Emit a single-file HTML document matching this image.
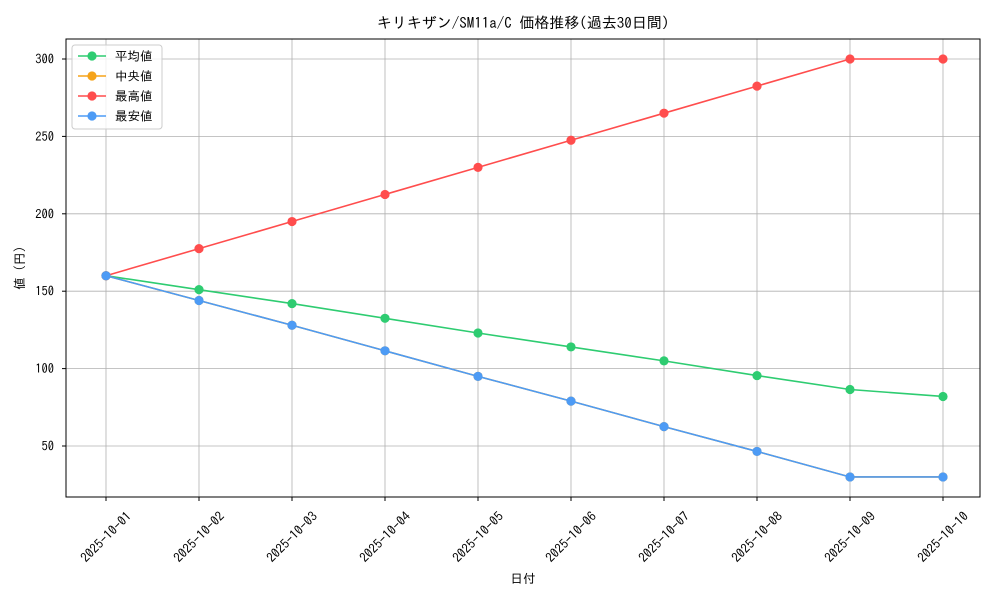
<!DOCTYPE html>
<html><head><meta charset="utf-8"><style>
body{margin:0;background:#fff;}
svg text{font-family:"IPAGothic","Noto Sans CJK JP",monospace;fill:#000;}
</style></head><body>
<svg id="chart" width="1000" height="600" xmlns="http://www.w3.org/2000/svg">
<rect width="1000" height="600" fill="#fff"/>
<g id="grid"></g>
<g id="series"></g>
<rect x="66" y="39" width="914" height="458" fill="none" stroke="#000" stroke-width="1"/>
<g id="axes"></g>
<text x="523" y="28" font-size="15" text-anchor="middle">キリキザン/SM11a/C 価格推移(過去30日間)</text>
<text x="523" y="583" font-size="12.5" text-anchor="middle">日付</text>
<text x="24" y="268" font-size="12.5" text-anchor="middle" transform="rotate(-90 24 268)">値 (円)</text>
<g id="legend"></g>
</svg>
<script>
const categories=["2025-10-01","2025-10-02","2025-10-03","2025-10-04","2025-10-05","2025-10-06","2025-10-07","2025-10-08","2025-10-09","2025-10-10"];
const avgValues=[160,151,142,132.5,123,114,105,95.5,86.5,82];
const medianValues=[160,144,128,111.5,95,79,62.5,46.5,30,30];
const maxValues=[160,177.5,195,212.5,230,247.5,265,282.5,300,300];
const minValues=[160,144,128,111.5,95,79,62.5,46.5,30,30];
const yTicks=[50,100,150,200,250,300];
const seriesNames=["平均値","中央値","最高値","最安値"];
const NS="http://www.w3.org/2000/svg";
function x(i){return 106+i*93;}
function y(v){return 523.4-v*1.548;}
function mk(tag,attrs,parent){const e=document.createElementNS(NS,tag);for(const k in attrs)e.setAttribute(k,attrs[k]);parent.appendChild(e);return e;}
const grid=document.getElementById('grid'),axes=document.getElementById('axes'),ser=document.getElementById('series'),leg=document.getElementById('legend');
categories.forEach((c,i)=>{
 const gl=mk('line',{x1:x(i),x2:x(i),y1:39,y2:497,stroke:'#b0b0b0','stroke-width':0.8},grid);
 
 
 const t=mk('line',{x1:x(i),x2:x(i),y1:497,y2:501,stroke:'#000'},axes);
 
 
 const tx=mk('text',{x:x(i),y:541.5,'font-size':13,'text-anchor':'middle',transform:`rotate(-45 ${x(i)} 537)`},axes);
 tx.textContent=c;
 
 
});
yTicks.forEach(v=>{
 const gl=mk('line',{x1:66,x2:980,y1:y(v),y2:y(v),stroke:'#b0b0b0','stroke-width':0.8},grid);
 
 
 const t=mk('line',{x1:62,x2:66,y1:y(v),y2:y(v),stroke:'#000'},axes);
 
 
 const tx=mk('text',{x:54,y:y(v)+4.5,'font-size':12.5,'text-anchor':'end'},axes);
 tx.textContent=v;
 
 
});
const all=[[avgValues,'#2ecc71'],[medianValues,'#f5a31a'],[maxValues,'#ff4d4d'],[minValues,'#4d9bf5']];
all.forEach(([vals,col],s)=>{
 const g=mk('g',{},ser);
 
 
 const p=mk('polyline',{points:vals.map((v,i)=>x(i)+','+y(v)).join(' '),fill:'none',stroke:col,'stroke-width':1.6},g);
 
 
 vals.forEach((v,i)=>{
  const c=mk('circle',{cx:x(i),cy:y(v),r:4.6,fill:col},g);
  
  
 });
});
mk('rect',{x:72,y:45,width:90,height:84,fill:'#fff','fill-opacity':0.8,stroke:'#ccc',rx:3},leg);
seriesNames.forEach((n,i)=>{
 const yy=56+i*20,col=all[i][1];
 const g=mk('g',{},leg);
 
 
 mk('line',{x1:78,x2:106,y1:yy,y2:yy,stroke:col,'stroke-width':1.6},g);
 mk('circle',{cx:92,cy:yy,r:4.6,fill:col},g);
 const t=mk('text',{x:115,y:yy+4.5,'font-size':12.5},g);
 t.textContent=n;
});
</script>
</body></html>
